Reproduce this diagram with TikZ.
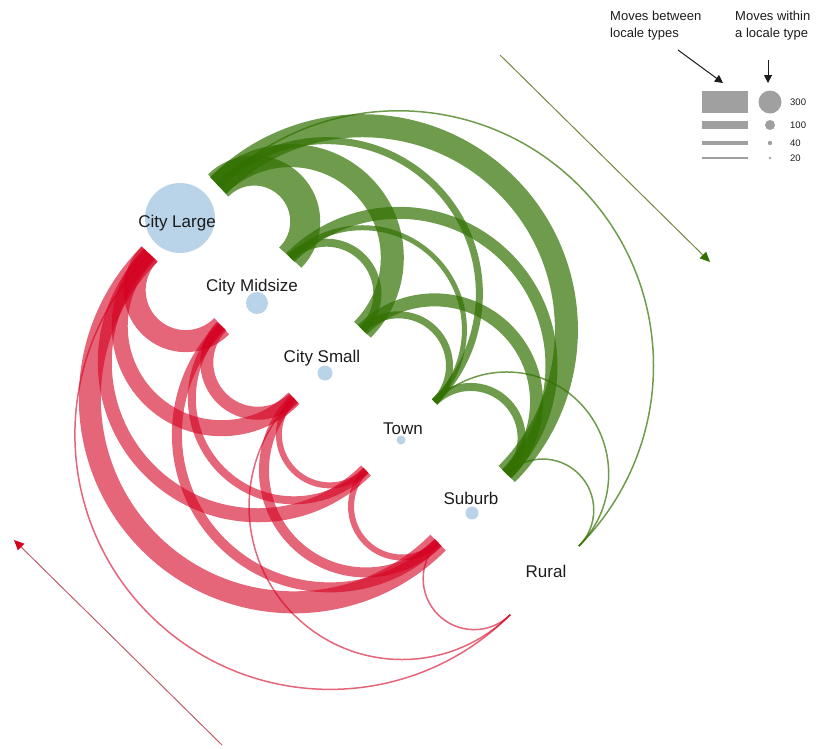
\documentclass[tikz,border=0pt]{standalone}
\usepackage{fontspec}
\setmainfont{Liberation Sans}
\usetikzlibrary{arrows.meta}

\definecolor{arcgreen}{RGB}{49,112,0}
\definecolor{arcred}{RGB}{212,0,32}
\definecolor{shaftgreen}{RGB}{115,135,65}
\definecolor{shaftred}{RGB}{190,95,105}
\definecolor{spotblue}{RGB}{185,211,232}
\definecolor{keygrey}{RGB}{160,160,160}
\definecolor{inkgrey}{RGB}{28,28,28}

\tikzset{
	greenband/.style={draw=arcgreen, draw opacity=0.7},
	redband/.style={draw=arcred, draw opacity=0.6},
	spot/.style={circle, fill=spotblue, inner sep=0pt, minimum size=#1},
	placename/.style={font=\fontsize{17}{20}\selectfont, text=inkgrey, inner sep=0pt, anchor=base},
	keytext/.style={font=\fontsize{13}{16.6}\selectfont, text=inkgrey, align=left, anchor=north west, inner sep=0pt},
	keynum/.style={font=\fontsize{9.5}{11}\selectfont, text=inkgrey, anchor=west, inner sep=0pt},
}

\begin{document}
\begin{tikzpicture}[x=1pt, y=1pt]
	\useasboundingbox (0,0) rectangle (817,-748);

	\begin{scope}[shift={(180,-218)}, rotate=-45]
		\coordinate (g0) at (4,50);
		\coordinate (g1) at (106,50);
		\coordinate (g2) at (208,50);
		\coordinate (g3) at (310,50);
		\coordinate (g4) at (412,50);
		\coordinate (g5) at (514,50);

		\coordinate (r0) at (4,-47);
		\coordinate (r1) at (106,-47);
		\coordinate (r2) at (208,-47);
		\coordinate (r3) at (310,-47);
		\coordinate (r4) at (412,-47);
		\coordinate (r5) at (514,-47);

		\draw[greenband, line width=1.5] (g0) arc[start angle=180, end angle=0, radius=255];
		\draw[greenband, line width=23] (g0) arc[start angle=180, end angle=0, radius=204];
		\draw[greenband, line width=7] (g0) arc[start angle=180, end angle=0, radius=153];
		\draw[greenband, line width=23] (g0) arc[start angle=180, end angle=0, radius=102];
		\draw[greenband, line width=30] (g0) arc[start angle=180, end angle=0, radius=51];
		\draw[greenband, line width=12] (g1) arc[start angle=180, end angle=0, radius=153];
		\draw[greenband, line width=5] (g1) arc[start angle=180, end angle=0, radius=102];
		\draw[greenband, line width=8] (g1) arc[start angle=180, end angle=0, radius=51];
		\draw[greenband, line width=13] (g2) arc[start angle=180, end angle=0, radius=102];
		\draw[greenband, line width=7] (g2) arc[start angle=180, end angle=0, radius=51];
		\draw[greenband, line width=1.5] (g3) arc[start angle=180, end angle=0, radius=102];
		\draw[greenband, line width=8] (g3) arc[start angle=180, end angle=0, radius=51];
		\draw[greenband, line width=1.5] (g4) arc[start angle=180, end angle=0, radius=51];

		\draw[redband, line width=1.5] (r0) arc[start angle=180, end angle=360, radius=255];
		\draw[redband, line width=22] (r0) arc[start angle=180, end angle=360, radius=204];
		\draw[redband, line width=14] (r0) arc[start angle=180, end angle=360, radius=153];
		\draw[redband, line width=16] (r0) arc[start angle=180, end angle=360, radius=102];
		\draw[redband, line width=22] (r0) arc[start angle=180, end angle=360, radius=51];
		\draw[redband, line width=10] (r1) arc[start angle=180, end angle=360, radius=153];
		\draw[redband, line width=8] (r1) arc[start angle=180, end angle=360, radius=102];
		\draw[redband, line width=13] (r1) arc[start angle=180, end angle=360, radius=51];
		\draw[redband, line width=1.5] (r2) arc[start angle=180, end angle=360, radius=153];
		\draw[redband, line width=10] (r2) arc[start angle=180, end angle=360, radius=102];
		\draw[redband, line width=6] (r2) arc[start angle=180, end angle=360, radius=51];
		\draw[redband, line width=6] (r3) arc[start angle=180, end angle=360, radius=51];
		\draw[redband, line width=1.5] (r4) arc[start angle=180, end angle=360, radius=51];
	\end{scope}

	\node[spot=70pt] (citylarge) at (180,-218) {};
	\node[spot=22pt] (citymid) at (257,-303) {};
	\node[spot=15pt] (citysmall) at (325,-373) {};
	\node[spot=9pt] (town) at (401,-440) {};
	\node[spot=13pt] (suburb) at (472,-513) {};

	\node[placename] (citylargename) at (177,-227) {City Large};
	\node[placename] (citymidname) at (252,-291) {City Midsize};
	\node[placename] (citysmallname) at (322,-362) {City Small};
	\node[placename] (townname) at (403,-434) {Town};
	\node[placename] (suburbname) at (471,-504) {Suburb};
	\node[placename] (ruralname) at (546,-577) {Rural};

	\coordinate (downstart) at (500,-55);
	\coordinate (downend) at (710,-262);
	\coordinate (upstart) at (222,-745);
	\coordinate (upend) at (14,-540);
	\draw[shaftgreen, line width=1, -{Triangle[color=arcgreen, length=10pt, width=9pt]}] (downstart) -- (downend);
	\draw[shaftred, line width=1, -{Triangle[color=arcred, length=10pt, width=9pt]}] (upstart) -- (upend);

	\node[keytext] (betweenkey) at (610,-11) {Moves between\\locale types};
	\node[keytext] (withinkey) at (735,-11) {Moves within\\a locale type};
	\coordinate (betweentip) at (723,-83);
	\coordinate (withintip) at (768,-83);
	\draw[inkgrey, line width=1, -{Triangle[length=8pt, width=8pt]}] (678,-50) -- (betweentip);
	\draw[inkgrey, line width=1, -{Triangle[length=8pt, width=8pt]}] (768,-60) -- (withintip);

	\draw[keygrey, line width=22] (702,-102) -- (748,-102);
	\draw[keygrey, line width=8] (702,-125) -- (748,-125);
	\draw[keygrey, line width=3.5] (702,-143) -- (748,-143);
	\draw[keygrey, line width=2] (702,-158) -- (748,-158);

	\fill[keygrey] (770,-102) circle[radius=11.5];
	\fill[keygrey] (770,-125) circle[radius=5];
	\fill[keygrey] (770,-143) circle[radius=2.2];
	\fill[keygrey] (770,-158) circle[radius=1.3];

	\node[keynum] (num300) at (790,-102) {300};
	\node[keynum] (num100) at (790,-125) {100};
	\node[keynum] (num40) at (790,-143) {40};
	\node[keynum] (num20) at (790,-158) {20};
\end{tikzpicture}
\end{document}
